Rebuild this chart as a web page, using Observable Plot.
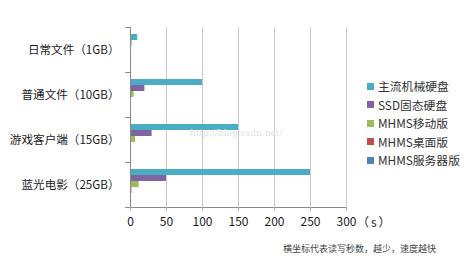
<!DOCTYPE html>
<html>
<head>
<meta charset="utf-8">
<script src="https://cdn.jsdelivr.net/npm/d3@7"></script>
<script src="https://cdn.jsdelivr.net/npm/@observablehq/plot@0.6"></script>
<style>
  body { margin: 0; background: #fff; }
  #wrap { position: relative; width: 474px; height: 259px; font-family: "Noto Sans CJK SC", "Noto Sans", sans-serif; }
  .legend { position: absolute; left: 367px; top: 77px; font-size: 11.8px; color: #333; }
  .legend .row { height: 18.5px; line-height: 18.5px; white-space: nowrap; display: flex; align-items: center; }
  .legend .sw { width: 7px; height: 7px; margin-right: 4px; display: inline-block; }
  .unit { position: absolute; left: 357px; top: 213px; font-size: 12px; color: #222; letter-spacing: 2px; }
  .caption { position: absolute; left: 283px; top: 242px; font-size: 9px; color: #444; white-space: nowrap; }
  .wm { position: absolute; left: 190px; top: 128px; font-size: 9px; color: #e2e2e2; font-family: "DejaVu Serif", serif; }
</style>
</head>
<body>
<div id="wrap"></div>
<script>
const categories = ["日常文件（1GB）", "普通文件（10GB）", "游戏客户端（15GB）", "蓝光电影（25GB）"];
const series = ["主流机械硬盘", "SSD固态硬盘", "MHMS移动版", "MHMS桌面版", "MHMS服务器版"];
const hdd = [10, 100, 150, 250];
const ssd = [2, 20, 30, 50];
const mobile = [0.5, 5, 7, 12];
const desktop = [0.3, 1, 1, 2];
const server = [0.2, 0.5, 0.5, 1];
const xTicks = [0, 50, 100, 150, 200, 250, 300];
const colors = ["#4bacc6", "#8064a2", "#9bbb59", "#c0504d", "#4f81bd"];
const unitLabel = "（s）";
const captionText = "横坐标代表读写秒数，越少，速度越快";
const watermark = "http://blog.csdn.net/";

const valuesBySeries = [hdd, ssd, mobile, desktop, server];
const data = categories.flatMap((c, i) => series.map((s, j) => ({category: c, series: s, value: valuesBySeries[j][i]})));

const chart = Plot.plot({
  width: 474,
  height: 259,
  marginLeft: 130,
  marginRight: 128,
  marginTop: 27,
  marginBottom: 52,
  style: {fontFamily: "'Noto Sans CJK SC', 'Noto Sans', sans-serif", fontSize: "12px", color: "#222", background: "transparent"},
  x: {domain: [0, 300], ticks: xTicks},
  y: {domain: series, padding: 0, insetTop: 5, insetBottom: 6, axis: null},
  fy: {domain: categories, padding: 0},
  color: {domain: series, range: colors},
  marks: [
    Plot.gridX(xTicks, {stroke: "#c8c8c8", strokeOpacity: 1}),
    Plot.barX(data, {fy: "category", y: "series", x: "value", fill: "series"}),
    Plot.ruleX([0], {stroke: "#8a8a8a"}),
    Plot.frame({anchor: "bottom", facetAnchor: "bottom", stroke: "#8a8a8a"}),
    Plot.axisFy({anchor: "left", tickSize: 0, tickPadding: 11, label: null, fontSize: 11.6, fill: "#1a1a1a"}),
    Plot.axisFy({anchor: "left", tickSize: 5, tickFormat: () => "", dy: -22.5, label: null, stroke: "#8a8a8a"}),
    Plot.axisFy({anchor: "left", tickSize: 5, tickFormat: () => "", dy: 22.5, label: null, stroke: "#8a8a8a"}),
    Plot.axisX(xTicks, {anchor: "bottom", tickSize: 4, tickPadding: 6, label: null, stroke: "#b0b0b0", fill: "#1a1a1a", fontSize: 12})
  ]
});

const wrap = document.getElementById("wrap");
wrap.appendChild(chart);

const legend = document.createElement("div");
legend.className = "legend";
series.forEach((s, i) => {
  const row = document.createElement("div");
  row.className = "row";
  const sw = document.createElement("span");
  sw.className = "sw";
  sw.style.background = colors[i];
  const t = document.createElement("span");
  t.textContent = s;
  row.appendChild(sw);
  row.appendChild(t);
  legend.appendChild(row);
});
wrap.appendChild(legend);

const unit = document.createElement("div");
unit.className = "unit";
unit.textContent = unitLabel;
wrap.appendChild(unit);

const cap = document.createElement("div");
cap.className = "caption";
cap.textContent = captionText;
wrap.appendChild(cap);

const wm = document.createElement("div");
wm.className = "wm";
wm.textContent = watermark;
wrap.appendChild(wm);
</script>
</body>
</html>
